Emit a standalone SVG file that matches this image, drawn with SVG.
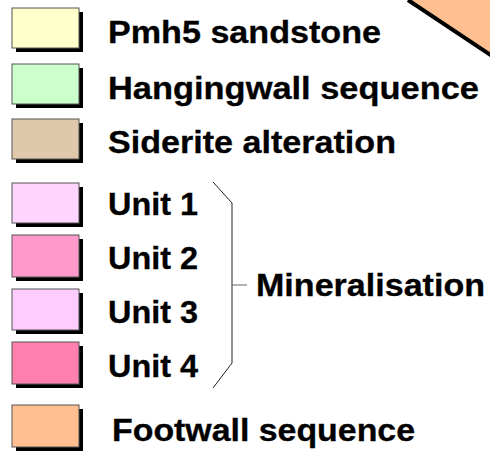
<svg xmlns="http://www.w3.org/2000/svg" width="490" height="451" viewBox="0 0 490 451">
<style>
.sh{fill:#000}
.bx{stroke:#555;stroke-width:1}
.t{font-family:"Liberation Sans",Arial,sans-serif;font-weight:bold;font-size:31px;fill:#000;stroke:#000;stroke-width:0.3}
.br{fill:none;stroke:#222;stroke-width:1}
</style>
<rect width="490" height="451" fill="#fff"/>
<polygon points="408,0 490,0 490,55" fill="#FFBF90" stroke="none"/>
<line x1="408" y1="0" x2="492" y2="56" stroke="#000" stroke-width="4"/>
<g id="pmh5">
<rect class="sh" x="16" y="12" width="67" height="40"/>
<rect class="bx" x="12" y="8" width="67" height="40" fill="#FFFFCC"/>
<text class="t" x="108" y="43" textLength="273" lengthAdjust="spacingAndGlyphs">Pmh5 sandstone</text>
</g>
<g id="hangingwall">
<rect class="sh" x="16" y="68" width="67" height="40"/>
<rect class="bx" x="12" y="64" width="67" height="40" fill="#CCFFCC"/>
<text class="t" x="108" y="99" textLength="371" lengthAdjust="spacingAndGlyphs">Hangingwall sequence</text>
</g>
<g id="siderite">
<rect class="sh" x="16" y="123" width="67" height="40"/>
<rect class="bx" x="12" y="119" width="67" height="40" fill="#E0C8AA"/>
<text class="t" x="108" y="153" textLength="288" lengthAdjust="spacingAndGlyphs">Siderite alteration</text>
</g>
<g id="unit1">
<rect class="sh" x="16" y="187" width="67" height="40"/>
<rect class="bx" x="12" y="183" width="67" height="40" fill="#FFD5FF"/>
<text class="t" x="108" y="215" textLength="90" lengthAdjust="spacingAndGlyphs">Unit 1</text>
</g>
<g id="unit2">
<rect class="sh" x="16" y="239" width="67" height="42"/>
<rect class="bx" x="12" y="235" width="67" height="42" fill="#FF99CC"/>
<text class="t" x="108" y="269" textLength="90" lengthAdjust="spacingAndGlyphs">Unit 2</text>
</g>
<g id="unit3">
<rect class="sh" x="16" y="293" width="67" height="41"/>
<rect class="bx" x="12" y="289" width="67" height="41" fill="#FFCCFF"/>
<text class="t" x="108" y="323" textLength="90" lengthAdjust="spacingAndGlyphs">Unit 3</text>
</g>
<g id="unit4">
<rect class="sh" x="16" y="346" width="67" height="42"/>
<rect class="bx" x="12" y="342" width="67" height="42" fill="#FF7FAF"/>
<text class="t" x="108" y="377" textLength="90" lengthAdjust="spacingAndGlyphs">Unit 4</text>
</g>
<g id="footwall">
<rect class="sh" x="16" y="409" width="67" height="42"/>
<rect class="bx" x="12" y="405" width="67" height="42" fill="#FFBF90"/>
<text class="t" x="112" y="441" textLength="303" lengthAdjust="spacingAndGlyphs">Footwall sequence</text>
</g>
<g id="connectors">
<polyline class="br" points="213,182 232,203 232,363 213,388"/>
<line x1="232" y1="285" x2="247" y2="285" stroke="#666" stroke-width="1"/>
</g>
<g id="mineralisation">
<text class="t" x="256" y="296" textLength="229" lengthAdjust="spacingAndGlyphs">Mineralisation</text>
</g>
</svg>
